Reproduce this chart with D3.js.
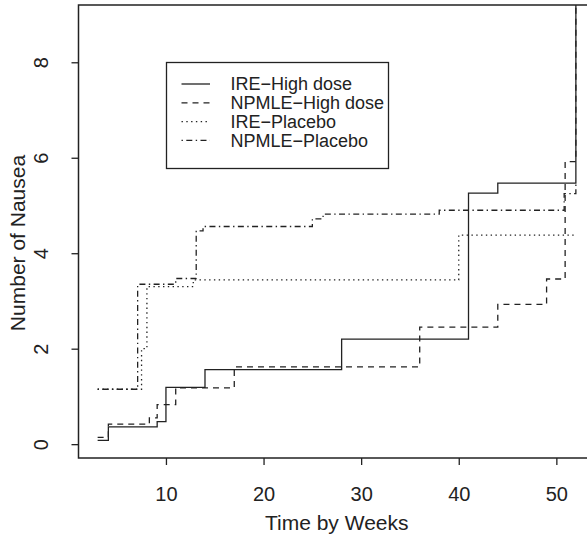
<!DOCTYPE html>
<html>
<head>
<meta charset="utf-8">
<script src="https://cdn.jsdelivr.net/npm/d3@7"></script>
<style>
  html, body { margin: 0; padding: 0; background: #fff; }
  svg { display: block; }
  text { font-family: "Liberation Sans", Arial, Helvetica, sans-serif; fill: #222; }
</style>
</head>
<body>
<div id="chart"></div>
<script>
// Cumulative mean number of nausea episodes (step functions)
const ireHighTimes   = [3, 4.1, 9.1, 10, 14, 28, 41, 44, 52];
const ireHighValues  = [0.08, 0.36, 0.47, 1.19, 1.56, 2.2, 5.26, 5.47, 9.2];

const npHighTimes    = [3, 4.1, 8.3, 9.1, 11, 17, 36, 44, 49, 50.9, 52];
const npHighValues   = [0.14, 0.42, 0.55, 0.83, 1.18, 1.62, 2.45, 2.93, 3.46, 5.92, 9.2];

const irePlaTimes    = [3, 7.5, 8.05, 12.8, 40, 52];
const irePlaValues   = [1.15, 2.0, 3.3, 3.44, 4.38, 4.38];

const npPlaTimes     = [3, 7.1, 11, 13.1, 13.8, 25, 26.1, 38, 50.8, 52];
const npPlaValues    = [1.15, 3.35, 3.47, 4.47, 4.56, 4.72, 4.82, 4.9, 5.25, 5.5];

const seriesNames = ["IRE\u2212High dose", "NPMLE\u2212High dose", "IRE\u2212Placebo", "NPMLE\u2212Placebo"];
const xTicks = [10, 20, 30, 40, 50];
const yTicks = [0, 2, 4, 6, 8];

const width = 587, height = 536;
const box = { left: 78.5, top: 5, right: 595, bottom: 458 };

const svg = d3.select("#chart").append("svg")
  .attr("width", width).attr("height", height);

const x = d3.scaleLinear().domain([1.04, 53.96]).range([box.left, box.right]);
const y = d3.scaleLinear().domain([-0.29, 9.2]).range([box.bottom, box.top]);

svg.append("defs").append("clipPath").attr("id", "plotclip")
  .append("rect")
  .attr("x", box.left).attr("y", box.top)
  .attr("width", box.right - box.left).attr("height", box.bottom - box.top);

const ink = "#222";
const styles = [
  { dash: null },
  { dash: "6,5" },
  { dash: "1.4,3.4" },
  { dash: "1.4,3.4,6,3.4" }
];

const series = [
  { t: ireHighTimes, v: ireHighValues },
  { t: npHighTimes, v: npHighValues },
  { t: irePlaTimes, v: irePlaValues },
  { t: npPlaTimes, v: npPlaValues }
];

const line = d3.line()
  .x(d => x(d[0]))
  .y(d => y(d[1]))
  .curve(d3.curveStepAfter);

const plot = svg.append("g").attr("clip-path", "url(#plotclip)");
series.forEach((s, i) => {
  const pts = s.t.map((t, j) => [t, s.v[j]]);
  plot.append("path")
    .attr("d", line(pts))
    .attr("fill", "none")
    .attr("stroke", ink)
    .attr("stroke-width", 1.3)
    .attr("stroke-dasharray", styles[i].dash);
});

// Axes
const xAxis = d3.axisBottom(x).tickValues(xTicks).tickSize(7).tickPadding(22).tickFormat(d3.format("d"));
const gx = svg.append("g").attr("transform", `translate(0,${box.bottom})`).call(xAxis);
gx.select(".domain").remove();
gx.selectAll("line").attr("stroke", ink).attr("stroke-width", 1.3);
gx.selectAll("text").attr("font-size", 20).attr("fill", ink);

const yAxis = d3.axisLeft(y).tickValues(yTicks).tickSize(7).tickFormat(d3.format("d"));
const gy = svg.append("g").attr("transform", `translate(${box.left},0)`).call(yAxis);
gy.select(".domain").remove();
gy.selectAll("line").attr("stroke", ink).attr("stroke-width", 1.3);
gy.selectAll("text")
  .attr("font-size", 20).attr("fill", ink)
  .attr("x", null).attr("y", null).attr("dy", null)
  .attr("text-anchor", "middle")
  .attr("transform", "translate(-38,0) rotate(-90)")
  .attr("dy", "0.35em");

// Plot frame
svg.append("rect")
  .attr("x", box.left).attr("y", box.top)
  .attr("width", box.right - box.left).attr("height", box.bottom - box.top)
  .attr("fill", "none").attr("stroke", ink).attr("stroke-width", 1.5);

// Axis titles
svg.append("text")
  .attr("x", x(27.5)).attr("y", 530)
  .attr("text-anchor", "middle").attr("font-size", 21)
  .text("Time by Weeks");

svg.append("text")
  .attr("transform", "translate(25,243) rotate(-90)")
  .attr("text-anchor", "middle").attr("font-size", 21)
  .text("Number of Nausea");

// Legend
const lg = svg.append("g");
lg.append("rect")
  .attr("x", 166.5).attr("y", 62.5).attr("width", 222).attr("height", 106)
  .attr("fill", "#fff").attr("stroke", ink).attr("stroke-width", 1.3);
seriesNames.forEach((name, i) => {
  const cy = 84 + i * 18.8;
  lg.append("line")
    .attr("x1", 181.5).attr("x2", 210).attr("y1", cy).attr("y2", cy)
    .attr("stroke", ink).attr("stroke-width", 1.3)
    .attr("stroke-dasharray", styles[i].dash);
  lg.append("text")
    .attr("x", 230.5).attr("y", cy).attr("dy", "0.35em")
    .attr("font-size", 18)
    .text(name);
});
</script>
</body>
</html>
